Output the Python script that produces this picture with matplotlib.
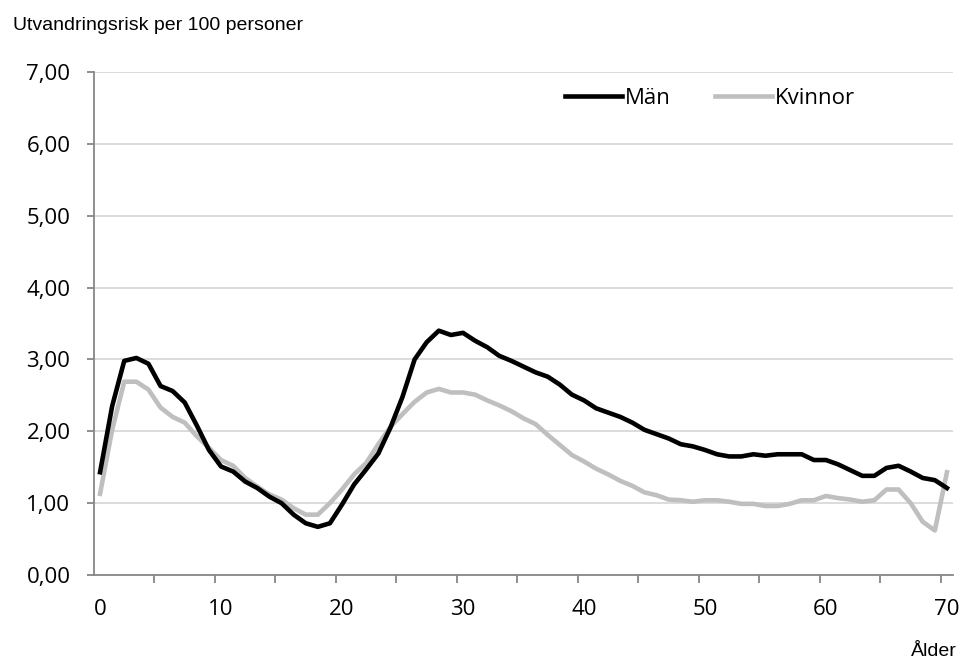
import matplotlib
matplotlib.use("Agg")
import matplotlib.pyplot as plt
import numpy as np

ages = list(range(0, 71))
man = [1.43, 2.35, 2.98, 3.02, 2.94, 2.63, 2.56, 2.40, 2.08, 1.74,
       1.51, 1.44, 1.30, 1.21, 1.09, 1.00, 0.84, 0.72, 0.67, 0.72,
       0.98, 1.26, 1.47, 1.69, 2.05, 2.48, 3.00, 3.24, 3.40, 3.34,
       3.37, 3.26, 3.17, 3.05, 2.98, 2.90, 2.82, 2.76, 2.65, 2.51,
       2.43, 2.32, 2.26, 2.20, 2.12, 2.02, 1.96, 1.90, 1.82, 1.79,
       1.74, 1.68, 1.65, 1.65, 1.68, 1.66, 1.68, 1.68, 1.68, 1.60,
       1.60, 1.54, 1.46, 1.38, 1.38, 1.49, 1.52, 1.44, 1.35, 1.32,
       1.21]
kvinnor = [1.13, 2.02, 2.69, 2.69, 2.58, 2.33, 2.20, 2.12, 1.93, 1.77,
           1.60, 1.52, 1.35, 1.23, 1.12, 1.05, 0.93, 0.84, 0.84, 1.00,
           1.19, 1.40, 1.56, 1.82, 2.06, 2.24, 2.41, 2.54, 2.59, 2.54,
           2.54, 2.51, 2.43, 2.36, 2.28, 2.18, 2.10, 1.95, 1.81, 1.67,
           1.58, 1.48, 1.40, 1.31, 1.24, 1.15, 1.11, 1.05, 1.04, 1.02,
           1.04, 1.04, 1.02, 0.99, 0.99, 0.96, 0.96, 0.99, 1.04, 1.04,
           1.10, 1.07, 1.05, 1.02, 1.04, 1.19, 1.19, 1.00, 0.74, 0.62,
           1.43]
yticks = [0, 1, 2, 3, 4, 5, 6, 7]
xlabels = [0, 10, 20, 30, 40, 50, 60, 70]
# category-axis tick marks sit between categories, every 5th
xtick_marks = [k * 5 - 0.5 for k in range(1, 15)]

fig = plt.figure(figsize=(9.63, 6.59), dpi=100)
ax = fig.add_axes([94/963, 1-575/659, (953-94)/963, (575-72)/659])

axis_col = "#868686"
grid_col = "#d9d9d9"
tick_font = "Open Sans"
text_font = "Liberation Sans"

for y in yticks[1:]:
    ax.axhline(y, color=grid_col, lw=1.3, zorder=0)

ax.plot(ages, man, color="black", lw=3.3, label="Män", zorder=3)
ax.plot(ages, kvinnor, color="#bfbfbf", lw=3.3, label="Kvinnor", zorder=2)

ax.set_xlim(-0.5, 70.5)
ax.set_ylim(0, 7)
ax.set_yticks(yticks)
ax.set_yticklabels([f"{v:.2f}".replace(".", ",") for v in yticks],
                   fontsize=16, fontfamily=tick_font)
ax.set_xticks(xlabels)
ax.set_xticklabels([str(v) for v in xlabels], fontsize=16, fontfamily=tick_font)
ax.set_xticks(xtick_marks, minor=True)

for s in ["top", "right"]:
    ax.spines[s].set_visible(False)
for s in ["left", "bottom"]:
    ax.spines[s].set_color(axis_col)
    ax.spines[s].set_linewidth(1.3)
ax.tick_params(axis="y", which="major", direction="out", color=axis_col,
               length=5, width=1.3, pad=12)
ax.tick_params(axis="x", which="major", length=0, pad=17)
ax.tick_params(axis="x", which="minor", direction="out", color=axis_col,
               length=5.5, width=1.3)

ax.legend(ncol=2, frameon=False, loc="center left",
          bbox_to_anchor=((565-94)/859, (575-98)/503),
          borderpad=0, borderaxespad=0,
          handlelength=2.55, handletextpad=0.15, columnspacing=2.0,
          prop={"family": tick_font, "size": 16})

fig.text(13/963, 1-30.5/659, "Utvandringsrisk per 100 personer", fontsize=14,
         fontfamily=text_font, va="baseline", ha="left")
fig.text(957/963, 1-656/659, "Ålder", fontsize=14,
         fontfamily=text_font, va="baseline", ha="right")

fig.savefig("out.png", dpi=100)
